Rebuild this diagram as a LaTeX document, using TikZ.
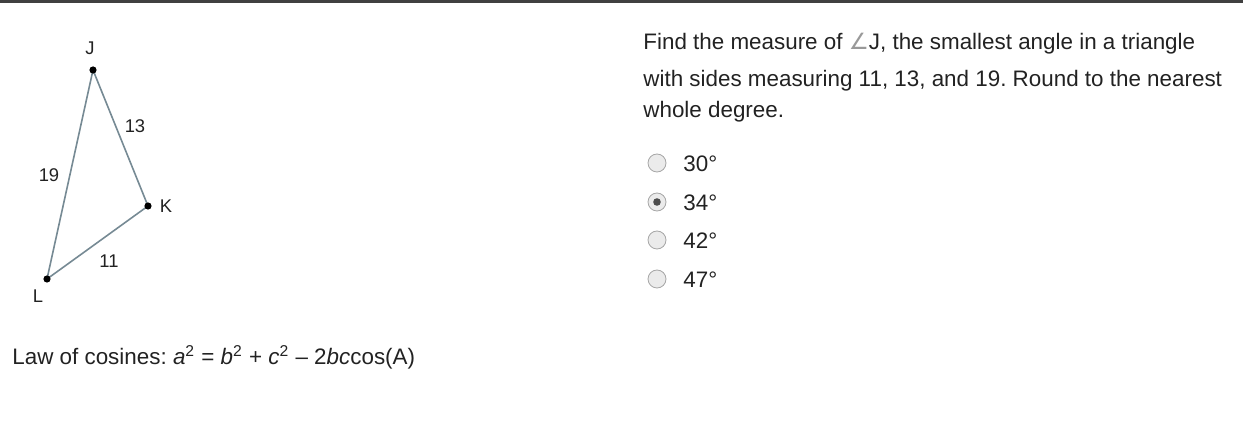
\documentclass[tikz,border=0pt]{standalone}
\usepackage{fontspec}
\setmainfont{Liberation Sans}
\newfontfamily\symfont{DejaVu Sans}
\definecolor{sidegray}{RGB}{118,138,148}
\definecolor{bargray}{RGB}{64,64,64}
\definecolor{textgray}{RGB}{34,34,34}
\frenchspacing
\begin{document}
\begin{tikzpicture}[x=0.5pt,y=-0.5pt]
\tikzset{vertex/.style={circle,fill=black,inner sep=0pt,minimum size=3.6pt},
  lbl/.style={font=\fontsize{9.2}{10}\selectfont,text=textgray,inner sep=0pt},
  txt/.style={font=\fontsize{11.2}{13}\selectfont,text=textgray,inner sep=0pt,anchor=west},
  radio/.style={circle,draw=black!35,fill=black!8,inner sep=0pt,minimum size=9pt}}
\useasboundingbox (0,0) rectangle (1243,438);
\fill [bargray] (0,0) rectangle (1243,3);
% triangle
\coordinate (J) at (93,70);
\coordinate (K) at (148,206);
\coordinate (L) at (47,279);
\draw [sidegray,line width=0.8pt] (J) -- (K) -- (L) -- cycle;
\node [vertex] (dJ) at (J) {};
\node [vertex] (dK) at (K) {};
\node [vertex] (dL) at (L) {};
\node [lbl] (nJ) at (90,48) {J};
\node [lbl] (nK) at (166,206) {K};
\node [lbl] (nL) at (38,296) {L};
\node [lbl] (s13) at (135,126) {13};
\node [lbl] (s19) at (49,175) {19};
\node [lbl] (s11) at (109,261) {11};
% formula
\node [txt] (law) at (12,357) {Law of cosines: \textit{a}\textsuperscript{2} = \textit{b}\textsuperscript{2} + \textit{c}\textsuperscript{2} -- 2\textit{bc}cos(A)};
% question
\node [txt] (q1) at (643,44) {Find the measure of {\symfont\color{black!40}∠}J, the smallest angle in a triangle};
\node [txt] (q2) at (643,81) {with sides measuring 11, 13, and 19. Round to the nearest};
\node [txt] (q3) at (643,112) {whole degree.};
% choices
\node [radio] (r1) at (657,163) {};
\node [radio] (r2) at (657,202) {};
\node [radio] (r3) at (657,240) {};
\node [radio] (r4) at (657,279) {};
\fill [black!70] (r2) circle (3.8);
\node [txt] (c1) at (683,164) {30°};
\node [txt] (c2) at (683,203) {34°};
\node [txt] (c3) at (683,241) {42°};
\node [txt] (c4) at (683,280) {47°};
\end{tikzpicture}
\end{document}
